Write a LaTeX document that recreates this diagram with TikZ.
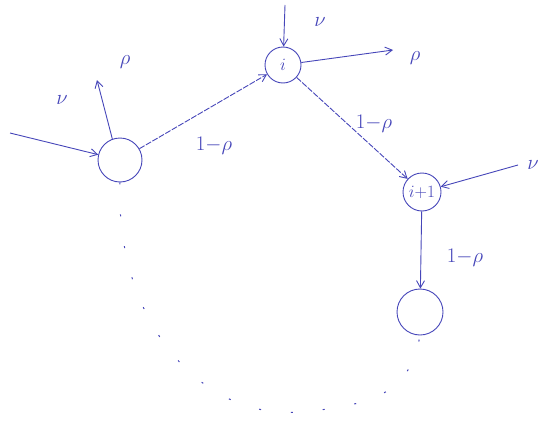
\documentclass[tikz,border=0pt]{standalone}
\usetikzlibrary{arrows.meta}
\definecolor{ink}{RGB}{70,70,185}
\begin{document}
\begin{tikzpicture}[x=1pt,y=-1pt,
  state/.style={draw=ink,circle,line width=0.9pt,inner sep=0pt,text=ink,font=\fontsize{17}{19}\selectfont},
  edge/.style={draw=ink,line width=0.9pt,-{Straight Barb[length=7pt,width=8pt]}},
  fedge/.style={edge,dash pattern=on 6pt off 1.5pt},
  lab/.style={text=ink,font=\fontsize{22}{24}\selectfont}]
\useasboundingbox (0,0) rectangle (554,423);
\node[state,minimum size=44pt] (A) at (120,160) {};
\node[state,minimum size=36pt] (B) at (283,65) {$i$};
\node[state,minimum size=38pt] (C) at (422,192) {$i{+}1$};
\node[state,minimum size=46pt] (D) at (420,312) {};
\coordinate (a0) at (10,133);
\coordinate (a1) at (97,80);
\coordinate (b0) at (285,5);
\coordinate (b1) at (393,50);
\coordinate (c0) at (518,165);
\draw[edge] (a0) -- (A);
\draw[edge] (A.110) -- (a1);
\draw[fedge] (A) -- (B);
\draw[edge] (b0) -- (B);
\draw[edge] (B) -- (b1);
\draw[fedge] (B) -- (C);
\draw[edge] (c0) -- (C);
\draw[edge] (C) -- (D);
\node[lab] (lnu1) at (62,100) {$\nu$};
\node[lab] (lrho1) at (125,62) {$\rho$};
\node[lab] (l1) at (214,146) {$1{-}\rho$};
\node[lab] (lnu2) at (320,22) {$\nu$};
\node[lab] (lrho2) at (415,58) {$\rho$};
\node[lab] (l2) at (374,124) {$1{-}\rho$};
\node[lab] (lnu3) at (533,165) {$\nu$};
\node[lab] (l3) at (465,258) {$1{-}\rho$};
\draw[ink,line width=1pt,dash pattern=on 2pt off 30pt]
  (A.south) .. controls (115,320) and (200,420) .. (300,412)
  .. controls (380,405) and (410,390) .. (D.south);
\end{tikzpicture}
\end{document}
